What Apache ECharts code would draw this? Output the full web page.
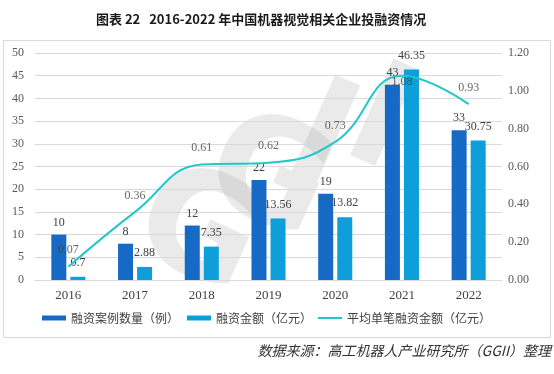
<!DOCTYPE html>
<html><head><meta charset="utf-8">
<script src="https://cdn.jsdelivr.net/npm/echarts@6/dist/echarts.min.js"></script>
<style>html,body{margin:0;padding:0;background:#fff}#c{width:554px;height:374px}</style>
</head><body><div id="c"></div>
<script>
var years = ['2016','2017','2018','2019','2020','2021','2022'];
var caseCounts = [10, 8, 12, 22, 19, 43, 33];
var amounts = [0.7, 2.88, 7.35, 13.56, 13.82, 46.35, 30.75];
var avgAmounts = [0.07, 0.36, 0.61, 0.62, 0.73, 1.08, 0.93];
var leftTicks = {min: 0, max: 50, interval: 5};
var rightTicks = {min: 0, max: 1.2, interval: 0.2};

var serif = '"Liberation Serif","Noto Sans CJK SC",serif';
var cjk = '"Noto Sans CJK SC",sans-serif';

// label for the peak sits below the point (as in the reference)
var maxIdx = avgAmounts.indexOf(Math.max.apply(null, avgAmounts));
var avgLabelData = avgAmounts.map(function (v, i) {
  return i === maxIdx ? {value: v, label: {position: 'bottom', distance: 0}} : v;
});

function wm(ch, x, y) {
  return {type: 'text', x: x, y: y, rotation: -0.42, z: 0, silent: true,
    style: {text: ch, font: 'bold 145px "DejaVu Sans", sans-serif', fill: 'rgba(160,160,160,0.22)', align: 'center', verticalAlign: 'middle'}};
}

var legendText = {fontFamily: cjk, fontSize: 12, color: '#404040'};

var chart = echarts.init(document.getElementById('c'));
chart.setOption({
  animation: false,
  backgroundColor: '#fff',
  title: {
    text: '图表 22   2016-2022 年中国机器视觉相关企业投融资情况',
    left: 91, top: 8,
    textStyle: {fontFamily: cjk, fontSize: 13, fontWeight: 'bold', color: '#1a1a1a'}
  },
  graphic: [
    {type: 'rect', shape: {x: 3.5, y: 40.5, width: 547, height: 297}, style: {fill: 'none', stroke: '#d9d9d9', lineWidth: 1}, z: -1},
    wm('G', 196, 236), wm('G', 266, 182), wm('I', 320, 142), wm('I', 378, 126),
    {type: 'text', right: 3, top: 344, style: {text: '数据来源：高工机器人产业研究所（GGII）整理', font: 'italic 14px "Noto Sans CJK SC", sans-serif', fill: '#333'}}
  ],
  legend: [
    {bottom: 45, left: 37, itemWidth: 24, itemHeight: 5, itemGap: 8, textStyle: legendText,
     data: [{name: '融资案例数量（例）', icon: 'rect'}, {name: '融资金额（亿元）', icon: 'rect'}]},
    {bottom: 45, left: 313, itemWidth: 24, itemHeight: 2, textStyle: legendText,
     data: [{name: '平均单笔融资金额（亿元）', icon: 'rect'}]}
  ],
  grid: {left: 35, right: 52, top: 53, bottom: 94},
  xAxis: {
    type: 'category', data: years,
    axisTick: {show: false},
    axisLine: {lineStyle: {color: '#d9d9d9'}},
    axisLabel: {fontFamily: serif, fontSize: 13, color: '#404040', margin: 9}
  },
  yAxis: [
    {type: 'value', min: leftTicks.min, max: leftTicks.max, interval: leftTicks.interval,
     splitLine: {lineStyle: {color: '#d9d9d9'}},
     axisLabel: {fontFamily: serif, fontSize: 12, color: '#595959', margin: 11}},
    {type: 'value', min: rightTicks.min, max: rightTicks.max, interval: rightTicks.interval,
     splitLine: {show: false},
     axisLabel: {fontFamily: serif, fontSize: 12, color: '#595959', margin: 6,
       formatter: function (v) { return v.toFixed(2); }}}
  ],
  series: [
    {name: '融资案例数量（例）', type: 'bar', data: caseCounts, barWidth: 15, barGap: '27%',
     itemStyle: {color: '#1769C6'},
     label: {show: true, position: 'top', fontFamily: serif, fontSize: 12, color: '#404040', distance: 6}},
    {name: '融资金额（亿元）', type: 'bar', data: amounts, barWidth: 15,
     itemStyle: {color: '#0E9ED9'},
     label: {show: true, position: 'top', fontFamily: serif, fontSize: 12, color: '#404040', distance: 8}},
    {name: '平均单笔融资金额（亿元）', type: 'line', yAxisIndex: 1, data: avgAmounts, smooth: 0.45,
     symbol: 'none', lineStyle: {color: '#22C7CC', width: 2}, itemStyle: {color: '#22C7CC'}, z: 3},
    {name: 'avgLabels', type: 'scatter', yAxisIndex: 1, data: avgLabelData, symbolSize: 1,
     itemStyle: {color: 'rgba(0,0,0,0)'}, silent: true, z: 4,
     label: {show: true, position: 'top', fontFamily: serif, fontSize: 12, color: '#404040', distance: 10,
       formatter: function (p) { return p.value.toFixed(2); }}}
  ]
});
</script></body></html>
